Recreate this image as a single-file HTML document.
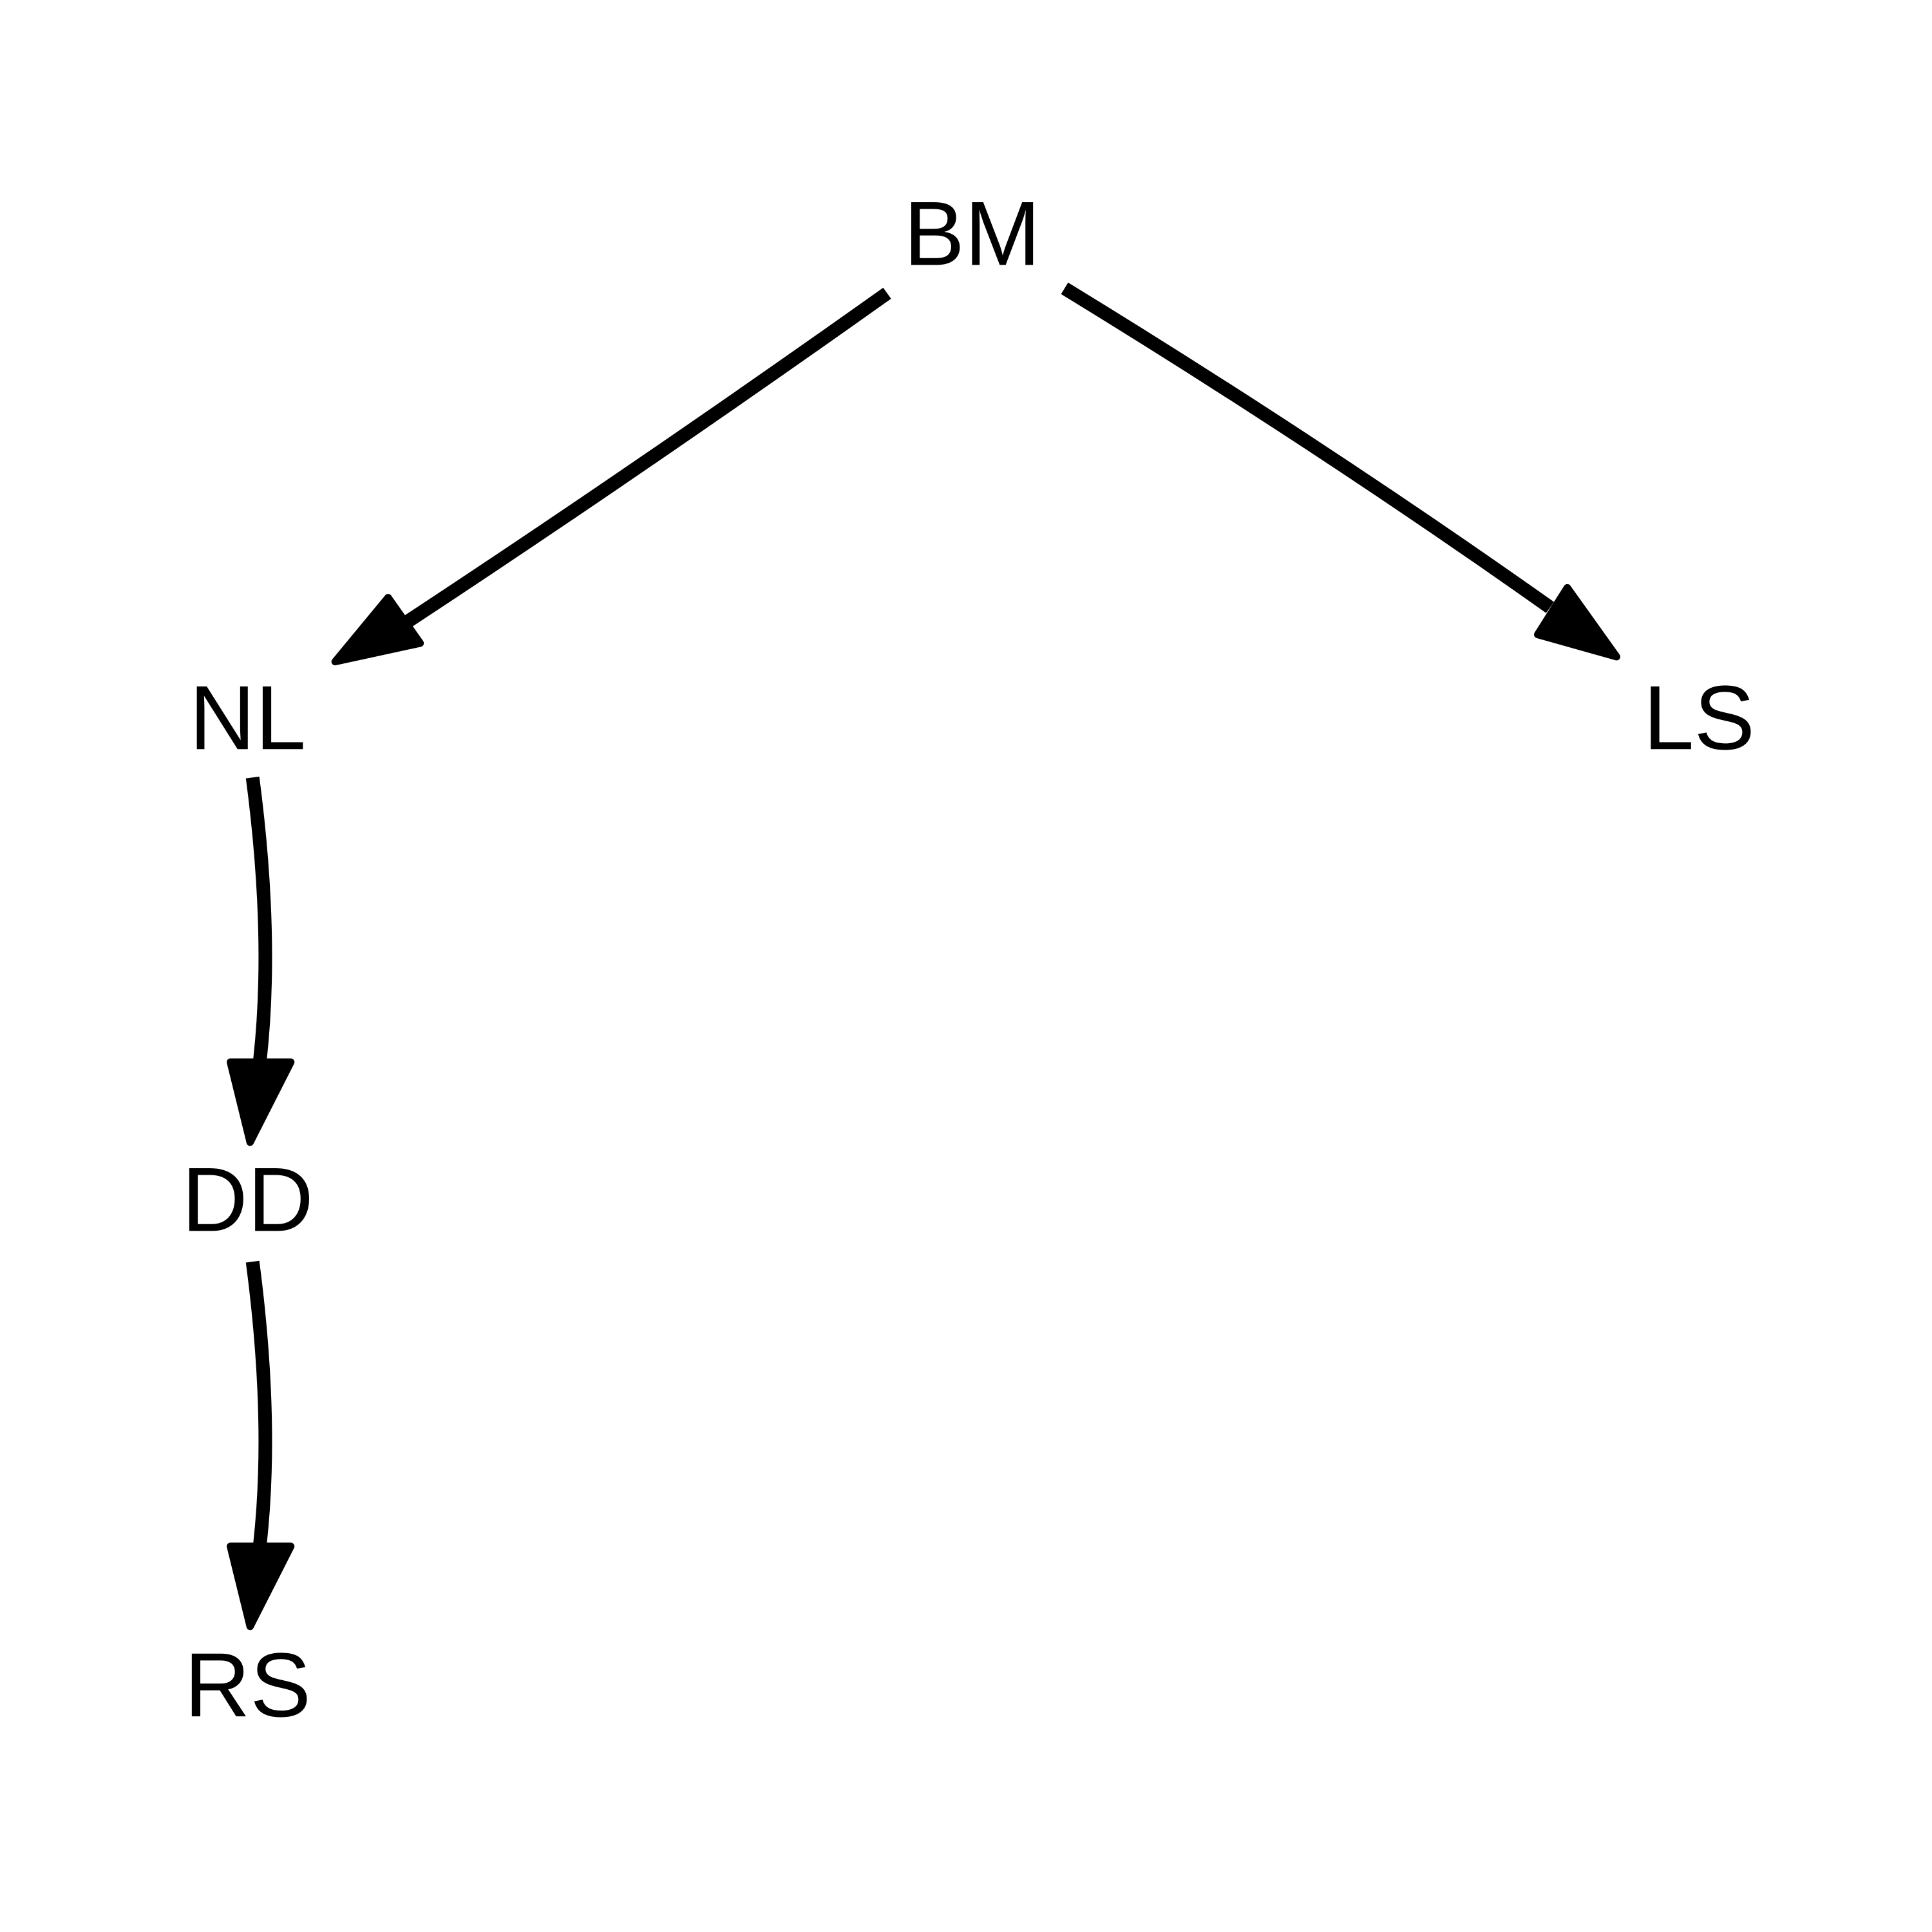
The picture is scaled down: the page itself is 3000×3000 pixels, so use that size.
<!DOCTYPE html>
<html><head><meta charset="utf-8"><style>html,body{margin:0;padding:0;background:#fff;width:3000px;height:3000px;overflow:hidden}svg{display:block}</style></head>
<body>
<svg width="3000" height="3000" viewBox="0 0 1568 1568" xmlns="http://www.w3.org/2000/svg">
<rect width="1568" height="1568" fill="#fff"/>
<g font-family="'Liberation Sans', Arial, sans-serif" font-size="74" fill="#000" text-anchor="middle">
<text x="789" y="215">BM</text>
<text x="201" y="608">NL</text>
<text x="1379" y="608">LS</text>
<text x="201" y="999">DD</text>
<text x="201" y="1393">RS</text>
</g>
<g stroke="#000" stroke-width="11" fill="none">
<path d="M720,238 Q520,380 330,505"/>
<path d="M864,234 Q1070,360 1258,493"/>
<path d="M205,631 Q222,760 211,860"/>
<path d="M205,1024 Q222,1153 211,1253"/>
</g>
<g fill="#000" stroke="#000" stroke-width="6" stroke-linejoin="round">
<polygon points="272,537 315,485 341,522"/>
<polygon points="1312,533 1272,477 1248,515"/>
<polygon points="203,927 187,862 236,862"/>
<polygon points="203,1320 187,1255 236,1255"/>
</g>
</svg>
</body></html>
